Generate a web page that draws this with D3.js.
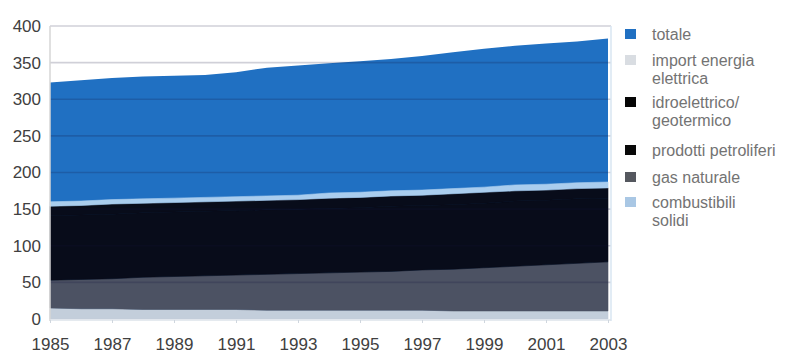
<!DOCTYPE html>
<html>
<head>
<meta charset="utf-8">
<script src="https://cdn.jsdelivr.net/npm/d3@7"></script>
<style>
  html, body { margin: 0; padding: 0; background: #fff; }
  svg { display: block; }
  text { font-family: "Liberation Sans", Arial, sans-serif; }
</style>
</head>
<body>
<svg id="chart" width="787" height="354"></svg>
<script>
// Consumo di energia per fonte, 1985-2003
const years = d3.range(1985, 2004);
const totale       = [323, 326, 329, 331, 332, 333, 337, 343, 346, 349, 352, 355, 359, 364, 369, 373, 376, 379, 383];
const combustibili = [15, 14, 14, 13, 13, 13, 13, 12, 12, 12, 12, 12, 12, 11, 11, 11, 11, 11, 11];
const gasNaturale  = [38, 40, 41, 44, 45, 46, 47, 49, 50, 51, 52, 53, 55, 57, 59, 61, 63, 65, 67];
const petroliferi  = [88, 88, 88, 88, 88, 88, 88, 88, 88, 88, 88, 89, 88, 88, 88, 89, 88, 88, 87];
const idroelettrico = [13, 13, 14, 13, 13, 13, 13, 13, 13, 14, 14, 14, 14, 15, 15, 14, 14, 14, 14];
const importEl     = [6, 6, 6, 6, 6, 6, 6, 6, 6, 7, 7, 7, 7, 7, 7, 8, 8, 8, 8];
const yTicks = [0, 50, 100, 150, 200, 250, 300, 350, 400];
const xTicks = [1985, 1987, 1989, 1991, 1993, 1995, 1997, 1999, 2001, 2003];

const layerKeys = ["combustibili", "gas", "petroliferi", "idro", "import"];
const layerColors = {
  combustibili: "#c3cedb",
  gas: "#4c5263",
  petroliferi: "#080c1a",
  idro: "#080c1a",
  import: "#aacdee"
};
const totaleColor = "#2070c2";

const legendItems = [
  { lines: ["totale"], color: totaleColor },
  { lines: ["import energia", "elettrica"], color: "#d9dde2" },
  { lines: ["idroelettrico/", "geotermico"], color: "#050505" },
  { lines: ["prodotti petroliferi"], color: "#080808" },
  { lines: ["gas naturale"], color: "#55585f" },
  { lines: ["combustibili", "solidi"], color: "#a9c7e4" }
];

const rows = years.map((yr, i) => ({
  year: yr,
  combustibili: combustibili[i],
  gas: gasNaturale[i],
  petroliferi: petroliferi[i],
  idro: idroelettrico[i],
  import: importEl[i],
  totale: totale[i]
}));

const svg = d3.select("#chart");
const x = d3.scaleLinear().domain([1985, 2003]).range([50, 608]);
const y = d3.scaleLinear().domain([0, 400]).range([319, 26]);

// totale drawn as a full area behind the stacked sources
svg.append("path")
  .datum(rows)
  .attr("fill", totaleColor)
  .attr("d", d3.area().x(d => x(d.year)).y0(y(0)).y1(d => y(d.totale)));

const stacked = d3.stack().keys(layerKeys)(rows);
svg.append("g").selectAll("path")
  .data(stacked)
  .join("path")
  .attr("fill", d => layerColors[d.key])
  .attr("stroke", d => layerColors[d.key])
  .attr("stroke-width", 0.6)
  .attr("d", d3.area().x(d => x(d.data.year)).y0(d => y(d[0])).y1(d => y(d[1])));

// horizontal grid over the areas
svg.append("g").selectAll("line")
  .data(yTicks.filter(t => t > 0))
  .join("line")
  .attr("x1", x(1985)).attr("x2", x(2003) + 3)
  .attr("y1", d => y(d)).attr("y2", d => y(d))
  .attr("stroke", "rgba(20,20,60,0.2)")
  .attr("stroke-width", 1.6);

// frame
svg.append("line").attr("x1", x(1985)).attr("x2", x(1985)).attr("y1", y(400)).attr("y2", y(0) + 2)
  .attr("stroke", "#d6d6d6").attr("stroke-width", 1.5);
svg.append("line").attr("x1", x(2003) + 3).attr("x2", x(2003) + 3).attr("y1", y(400)).attr("y2", y(0) + 2)
  .attr("stroke", "#d9e6f2").attr("stroke-width", 1.5);
svg.append("line").attr("x1", x(1985)).attr("x2", x(2003) + 3).attr("y1", y(0) + 1).attr("y2", y(0) + 1)
  .attr("stroke", "#dde3ea").attr("stroke-width", 1.5);

// axes
const yAxis = d3.axisLeft(y).tickValues(yTicks).tickSize(0).tickPadding(8);
const gy = svg.append("g").attr("transform", `translate(${x(1985) - 1},0)`).call(yAxis);
gy.select(".domain").remove();
gy.selectAll("text").attr("font-size", 17).attr("fill", "#404040")
  .attr("font-family", "'Liberation Sans', Arial, sans-serif");

const xAxis = d3.axisBottom(x).tickValues(xTicks).tickFormat(d3.format("d")).tickSize(3).tickPadding(15);
const gx = svg.append("g").attr("transform", `translate(0,${y(0) + 1})`).call(xAxis);
gx.select(".domain").remove();
gx.selectAll("line").attr("stroke", "#cfd6de");
gx.selectAll("text").attr("font-size", 17).attr("fill", "#404040")
  .attr("font-family", "'Liberation Sans', Arial, sans-serif");

// legend
const legendTops = [34, 60, 102, 150, 177, 202];
const lg = svg.append("g");
legendItems.forEach((item, i) => {
  const cy = legendTops[i];
  lg.append("rect").attr("x", 625).attr("y", cy - 5).attr("width", 11).attr("height", 10)
    .attr("fill", item.color);
  item.lines.forEach((ln, j) => {
    lg.append("text").attr("x", 652).attr("y", cy + j * 18.5)
      .attr("dy", "0.35em").attr("font-size", 16).attr("fill", "#737373").text(ln);
  });
});
</script>
</body>
</html>
